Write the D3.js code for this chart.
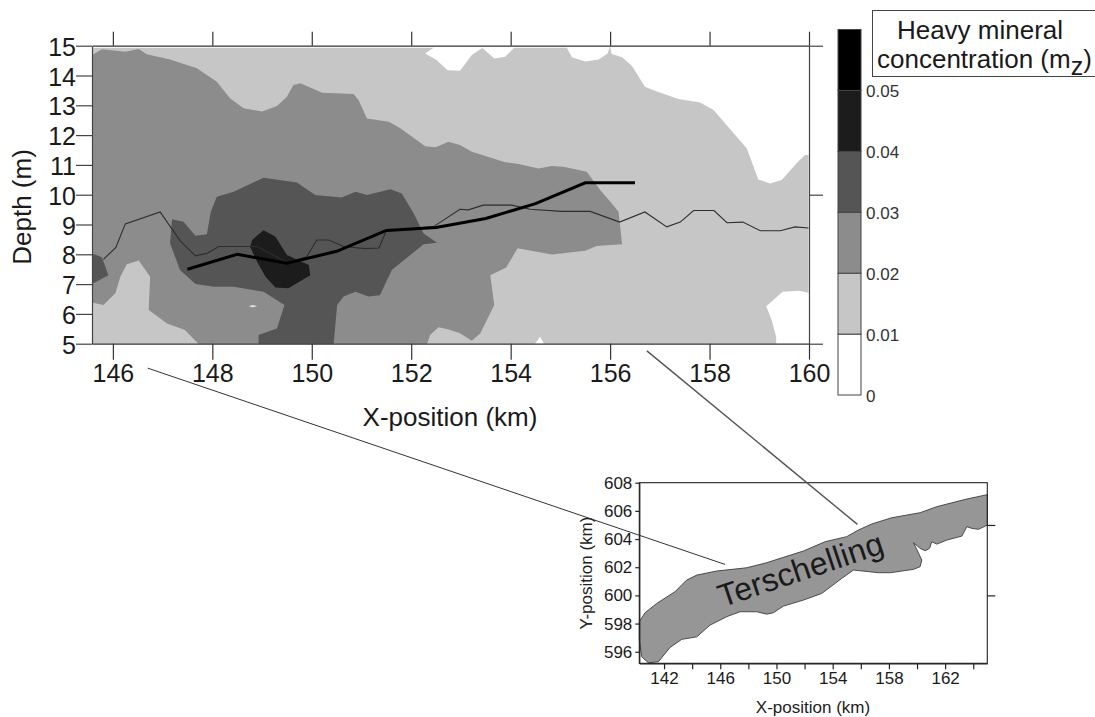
<!DOCTYPE html>
<html>
<head>
<meta charset="utf-8">
<script src="https://cdn.jsdelivr.net/npm/d3@7"></script>
<style>
html, body { margin: 0; padding: 0; background: #fff; }
svg { display: block; font-family: "Liberation Sans", Arial, sans-serif; }
</style>
</head>
<body>
<svg id="chart" width="1095" height="717"></svg>
<script>
// contour bands, [x km, depth m]
const band01 = [[145.58,14.93],[152.45,14.93],[152.28,14.74],[152.51,14.52],[152.73,14.18],[152.98,14.16],[153.22,14.69],[153.43,14.92],[153.67,14.57],[153.89,14.63],[154.07,14.93],[155.13,14.93],[155.23,14.61],[155.5,14.47],[155.77,14.54],[155.95,14.74],[156,14.97],[156.03,14.72],[156.24,14.61],[156.44,14.32],[156.7,13.62],[156.94,13.46],[157.37,13.21],[157.81,13.09],[158.08,12.84],[158.75,11.55],[158.98,10.51],[159.22,10.38],[159.45,10.49],[159.76,11.07],[159.92,11.33],[159.99,11.33],[159.99,6.71],[159.79,6.78],[159.47,6.74],[159.14,6.26],[159.25,5.79],[159.34,5.23],[159.34,5],[154.67,5],[154.59,5.23],[154.49,5],[145.58,5]];
const band02 = [[145.58,14.69],[145.78,14.88],[146.25,14.8],[146.52,14.89],[146.68,14.71],[147.15,14.54],[147.69,14.24],[148.09,13.79],[148.36,13.23],[148.63,12.9],[149,12.79],[149.3,12.98],[149.5,13.29],[149.63,13.68],[149.77,13.74],[150.21,13.42],[150.84,13.38],[150.94,13.18],[151.11,12.56],[151.55,12.45],[151.78,12.23],[152.28,11.63],[152.49,11.59],[152.75,11.78],[152.98,11.67],[153.22,11.44],[153.89,11.09],[154.16,11.03],[154.56,10.88],[154.83,10.96],[155.06,10.94],[155.53,10.77],[155.8,10.16],[156.03,9.71],[156.17,9.43],[156.24,8.34],[155.73,8.28],[155.5,8.12],[154.83,7.99],[154.14,8.2],[153.91,7.56],[153.59,7.3],[153.67,6.3],[153.39,5.35],[153.22,5.1],[152.98,5.35],[152.75,5.48],[152.55,5.55],[152.38,5.29],[152.32,5],[147.72,5],[147.45,5.46],[147.09,5.68],[146.72,6.13],[146.75,7.25],[146.52,7.79],[146.28,7.67],[146.15,7.25],[146.05,6.69],[145.81,6.3],[145.58,6.38]];
const band01Speck = [[148.73,6.26],[148.81,6.3],[148.9,6.26],[148.81,6.22]];
const band03 = [[147.19,9.18],[147.42,9.09],[147.66,8.62],[147.89,8.67],[147.97,9.43],[148.09,9.93],[148.43,10.1],[149.03,10.57],[149.7,10.41],[150.07,9.99],[150.6,9.91],[150.88,10.1],[151.11,9.99],[151.58,10.18],[151.81,10.04],[152.05,9.37],[152.25,8.7],[152.52,8.39],[152.25,8.34],[151.61,7.47],[151.37,6.63],[151.14,6.58],[150.88,6.74],[150.64,6.58],[150.51,6.3],[150.44,5],[148.93,5],[148.93,5.29],[149.3,5.51],[149.45,6.3],[149.03,6.74],[148.43,6.91],[148.03,6.91],[147.66,7],[147.35,7.47],[147.15,8.37]];
const band03Left = [[145.58,8.03],[145.78,7.9],[145.91,7.3],[145.58,7]];
const band04 = [[148.8,8.48],[149.03,8.81],[149.27,8.59],[149.5,7.98],[149.94,7.64],[149.97,7.3],[149.53,6.86],[149.27,6.89],[149.07,7.25],[148.9,7.75],[148.76,8.25]];

// thin line
const bedLevel = [[145.81,7.83],[146.06,8.23],[146.25,9.02],[146.95,9.42],[147.35,8.46],[147.66,7.95],[147.89,8.03],[148.13,8.26],[148.9,8.26],[149.5,7.73],[149.9,7.92],[150.1,8.48],[150.34,8.48],[150.64,8.26],[151.08,8.19],[151.35,8.21],[151.5,8.79],[152.45,8.93],[152.98,9.51],[153.15,9.49],[153.45,9.65],[154.02,9.65],[154.39,9.51],[155.03,9.44],[155.6,9.44],[156.19,9.08],[156.7,9.42],[157.14,8.92],[157.41,9.08],[157.68,9.47],[158.09,9.47],[158.35,9.06],[158.67,9.08],[159.02,8.79],[159.42,8.79],[159.72,8.92],[159.99,8.88]];
// thick line
const maxX = [147.5,148.5,149.5,150.5,151.5,152.5,153.5,154.5,155.5,156.5];
const maxDepth = [7.5,8.0,7.7,8.1,8.8,8.9,9.2,9.7,10.4,10.4];

const xTicks = [146,148,150,152,154,156,158,160];
const yTicks = [5,6,7,8,9,10,11,12,13,14,15];
const yTicksRight = [5,10,15];

const levels = [0,0.01,0.02,0.03,0.04,0.05,0.06];
const levelLabels = [0,0.01,0.02,0.03,0.04,0.05];
const levelColors = ["#ffffff","#c6c6c6","#8c8c8c","#555555","#1c1c1c","#000000"];

// inset map
const island = [[140.24,598.13],[140.65,598.77],[141.48,599.43],[142.78,600.26],[143.61,601.09],[144.33,601.44],[145.75,601.73],[147.88,601.96],[149.31,602.32],[150.49,602.7],[151.92,603.15],[153.46,603.81],[155,604.17],[155.83,604.64],[156.78,605.07],[158.2,605.51],[160.22,605.87],[161.41,606.3],[163.54,606.84],[165,607.15],[165,604.99],[164.37,604.69],[163.9,604.76],[163.54,604.88],[163.19,604.21],[162.12,603.93],[161.41,603.64],[161.05,603.81],[160.89,603.34],[160.58,603.17],[160.22,603.34],[159.75,603.74],[160.34,602.51],[160.22,602.04],[159.75,601.85],[158.09,601.61],[157.26,601.61],[155.48,601.8],[154.65,601.21],[153.22,600.14],[151.92,599.67],[150.49,599.24],[149.78,598.77],[149.31,598.67],[148.6,598.84],[147.41,598.84],[146.46,598.49],[145.27,597.89],[144.33,597.06],[143.26,596.88],[142.43,596.31],[141.6,595.29],[140.88,595.22],[140.41,595.64],[140.24,596.83]];
const insetXTicks = [142,144,146,148,150,152,154,156,158,160,162,164];
const insetYTicks = [596,598,600,602,604,606,608];
const insetYTicksRight = [600,605];

// zoom lines: main chart point -> inset point
const link1Main = [146.7,4.18], link1Inset = [146.34,602.2];
const link2Main = [156.74,4.76], link2Inset = [155.76,605.04];

const svg = d3.select("#chart");

const x = d3.scaleLinear().domain([145.58,160]).range([92,809]);
const y = d3.scaleLinear().domain([5,15]).range([343.7,45.7]);
const xIn = d3.scaleLinear().domain([140.24,165]).range([639.3,987.3]);
const yIn = d3.scaleLinear().domain([595.18,608]).range([663.3,482.7]);
const cb = d3.scaleLinear().domain([0,0.06]).range([395,29.5]);

const line = d3.line().x(d => x(d[0])).y(d => y(d[1]));
const lineIn = d3.line().x(d => xIn(d[0])).y(d => yIn(d[1]));

// contours, lightest first
const bands = [
  {pts: band01, c: levelColors[1]},
  {pts: band02, c: levelColors[2]},
  {pts: band01Speck, c: "#e4e4e4"},
  {pts: band03, c: levelColors[3]},
  {pts: band03Left, c: levelColors[3]},
  {pts: band04, c: levelColors[4]}
];
svg.append("g").selectAll("path")
  .data(bands)
  .enter()
  .append("path")
  .attr("d", d => line(d.pts) + "Z")
  .style("fill", d => d.c);

svg.append("path")
  .attr("d", line(bedLevel))
  .style("fill", "none")
  .style("stroke", "#2e2e2e")
  .style("stroke-width", 1.1);

svg.append("path")
  .attr("d", line(maxX.map((v, i) => [v, maxDepth[i]])))
  .style("fill", "none")
  .style("stroke", "#000")
  .style("stroke-width", 3);

// main axes
function styleAxis(g, col, size) {
  g.selectAll("path").style("stroke", col).style("stroke-width", 1.2);
  g.selectAll("line").style("stroke", col).style("stroke-width", 1.2);
  g.selectAll("text").style("font-family", "'Liberation Sans', Arial, sans-serif").style("font-size", size + "px").style("fill", "#1a1a1a");
}

const axLeft = svg.append("g").attr("transform", "translate(92,0)")
  .call(d3.axisLeft(y).tickValues(yTicks).tickSize(16).tickSizeOuter(0).tickPadding(0).tickFormat(d3.format("d")));
styleAxis(axLeft, "#444", 25);
axLeft.selectAll("text").attr("dy", "0.38em");

const axBottom = svg.append("g").attr("transform", "translate(0,343.7)")
  .call(d3.axisBottom(x).tickValues(xTicks).tickSize(16).tickSizeOuter(0).tickPadding(5).tickFormat(d3.format("d")));
styleAxis(axBottom, "#333", 25);

const axTop = svg.append("g").attr("transform", "translate(0,45.7)")
  .call(d3.axisTop(x).tickValues(xTicks).tickSize(14).tickSizeOuter(0).tickFormat(""));
styleAxis(axTop, "#333", 25);

const axRight = svg.append("g").attr("transform", "translate(809,0)")
  .call(d3.axisRight(y).tickValues(yTicksRight).tickSize(14).tickSizeOuter(0).tickFormat(""));
styleAxis(axRight, "#444", 25);

svg.append("text")
  .attr("x", 450).attr("y", 426)
  .attr("text-anchor", "middle")
  .style("font-size", "26px").style("fill", "#1a1a1a")
  .text("X-position (km)");

svg.append("text")
  .attr("transform", "translate(31,207) rotate(-90)")
  .attr("text-anchor", "middle")
  .style("font-size", "26px").style("fill", "#1a1a1a")
  .text("Depth (m)");

// colour bar
svg.append("g").selectAll("rect")
  .data(levelColors)
  .enter()
  .append("rect")
  .attr("x", 838)
  .attr("width", 23)
  .attr("y", (d, i) => cb(levels[i + 1]))
  .attr("height", (d, i) => cb(levels[i]) - cb(levels[i + 1]))
  .style("fill", d => d)
  .style("stroke", "#444")
  .style("stroke-width", 1);

const axCb = svg.append("g").attr("transform", "translate(861,1)")
  .call(d3.axisRight(cb).tickValues(levelLabels).tickSize(0).tickSizeOuter(0).tickPadding(5).tickFormat(d => d === 0 ? "0" : d3.format(".2f")(d)));
axCb.select("path").remove();
axCb.selectAll("text").style("font-family", "'Liberation Sans', Arial, sans-serif").style("font-size", "17px").style("fill", "#333");

// legend title
svg.append("rect")
  .attr("x", 872.5).attr("y", 10.5)
  .attr("width", 240).attr("height", 66)
  .style("fill", "#fff").style("stroke", "#444").style("stroke-width", 1);

svg.append("text")
  .attr("x", 980).attr("y", 39)
  .attr("text-anchor", "middle")
  .style("font-size", "26px").style("fill", "#1a1a1a")
  .text("Heavy mineral");

const conc = svg.append("text")
  .attr("x", 877).attr("y", 68)
  .style("font-size", "26px").style("fill", "#1a1a1a");
conc.append("tspan").text("concentration (m");
conc.append("tspan").attr("dy", 7).style("font-size", "25px").text("z");
conc.append("tspan").attr("dy", -7).text(")");

// inset
svg.append("path")
  .attr("d", lineIn(island) + "Z")
  .style("fill", "#969696")
  .style("stroke", "#4a4a4a")
  .style("stroke-width", 1);

svg.append("text")
  .attr("transform", "translate(804,580) rotate(-18.5)")
  .attr("text-anchor", "middle")
  .style("font-size", "32px").style("letter-spacing", "0.3px").style("fill", "#1a1a1a")
  .text("Terschelling");

svg.append("rect")
  .attr("x", xIn.range()[0]).attr("y", yIn.range()[1])
  .attr("width", xIn.range()[1] - xIn.range()[0])
  .attr("height", yIn.range()[0] - yIn.range()[1])
  .style("fill", "none").style("stroke", "#222").style("stroke-width", 1.1);

const inLeft = svg.append("g").attr("transform", "translate(639.3,0)")
  .call(d3.axisLeft(yIn).tickValues(insetYTicks).tickSize(4).tickSizeOuter(0).tickPadding(3).tickFormat(d3.format("d")));
styleAxis(inLeft, "#222", 17);

const inBottom = svg.append("g").attr("transform", "translate(0,663.3)")
  .call(d3.axisBottom(xIn).tickValues(insetXTicks).tickSize(6).tickSizeOuter(0).tickPadding(3)
    .tickFormat(d => (d - 142) % 4 === 0 ? d : ""));
styleAxis(inBottom, "#222", 17);

const inRight = svg.append("g").attr("transform", "translate(987.3,0)")
  .call(d3.axisRight(yIn).tickValues(insetYTicksRight).tickSize(8).tickSizeOuter(0).tickFormat(""));
styleAxis(inRight, "#222", 17);
inRight.select("path").remove();

svg.append("text")
  .attr("x", 813).attr("y", 713)
  .attr("text-anchor", "middle")
  .style("font-size", "17px").style("fill", "#222")
  .text("X-position (km)");

svg.append("text")
  .attr("transform", "translate(592,573) rotate(-90)")
  .attr("text-anchor", "middle")
  .style("font-size", "17px").style("fill", "#222")
  .text("Y-position (km)");

// zoom lines
svg.append("line")
  .attr("x1", x(link1Main[0])).attr("y1", y(link1Main[1]))
  .attr("x2", xIn(link1Inset[0])).attr("y2", yIn(link1Inset[1]))
  .style("stroke", "#333").style("stroke-width", 1);

svg.append("line")
  .attr("x1", x(link2Main[0])).attr("y1", y(link2Main[1]))
  .attr("x2", xIn(link2Inset[0])).attr("y2", yIn(link2Inset[1]))
  .style("stroke", "#555").style("stroke-width", 1.4);
</script>
</body>
</html>
